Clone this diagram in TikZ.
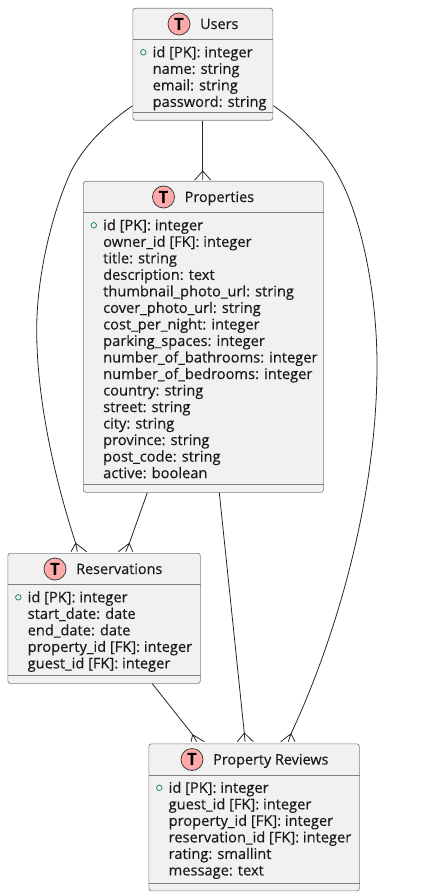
\documentclass[tikz,border=0pt]{standalone}
\usepackage{fontspec}
\usetikzlibrary{calc}
\setmainfont{Open Sans}
\newfontfamily\boxfont[FakeBold=0.2]{Open Sans}
\definecolor{boxline}{HTML}{7F7F7F}
\definecolor{boxfill}{HTML}{F1F1F1}
\definecolor{iconfill}{HTML}{FFAAAA}
\definecolor{pkgreen}{HTML}{1F8A5B}
\newcommand{\ebox}[8]{% name, x, y, w, h, icon x offset, title, fields
 \node[ebox,minimum width=#4pt,minimum height=#5pt] (#1) at (#2,#3) {};
 \draw[rule] ($(#1.north west)+(0,31.5)$) -- ($(#1.north east)+(0,31.5)$);
 \draw[rule] ($(#1.south west)+(0,-8)$) -- ($(#1.south east)+(0,-8)$);
 \node[icon] (#1-icon) at ($(#1.north west)+(#6,16)$) {T};
 \node[title] (#1-title) at ($(#1-icon.center)+(21,5)$) {#7};
 \node[pk] (#1-pk) at ($(#1.north west)+(10.8,44.3)$) {};
 \node[fields] (#1-fields) at ($(#1.north west)+(20,38)$) {#8};
}
\newcommand{\crow}[5]{% apex coordinate, left, mid, right, drop
 \draw[link] (#1) -- ++(#2,#5) (#1) -- ++(#3,#5) (#1) -- ++(#4,#5);}
\begin{document}
\begin{tikzpicture}[x=1pt,y=-1pt,
 ebox/.style={draw=boxline,fill=boxfill,line width=0.7pt,rounded corners=2.5pt,inner sep=0pt,anchor=north west},
 rule/.style={draw=boxline,line width=0.7pt},
 icon/.style={circle,draw=black!75,fill=iconfill,line width=0.8pt,minimum size=22pt,inner sep=0pt,font=\fontsize{17}{17}\selectfont\bfseries},
 title/.style={anchor=base west,inner sep=0pt,font=\boxfont\fontsize{14.4}{16}\selectfont,text=black!90},
 fields/.style={anchor=north west,align=left,inner sep=0pt,font=\boxfont\fontsize{14.65}{16.52}\selectfont,text=black!90},
 pk/.style={circle,draw=pkgreen,line width=0.8pt,minimum size=5.5pt,inner sep=0pt},
 link/.style={draw=black!85,line width=0.8pt}]
\useasboundingbox (0,0) rectangle (430,896);
\ebox{users}{132.5}{8}{140}{112}{46.5}{Users}{id [PK]: integer\\name: string\\email: string\\password: string}
\ebox{props}{83}{181}{240}{311}{80.5}{Properties}{id [PK]: integer\\owner\_id [FK]: integer\\title: string\\description: text\\thumbnail\_photo\_url: string\\cover\_photo\_url: string\\cost\_per\_night: integer\\parking\_spaces: integer\\number\_of\_bathrooms: integer\\number\_of\_bedrooms: integer\\country: string\\street: string\\city: string\\province: string\\post\_code: string\\active: boolean}
\ebox{res}{7.5}{553}{192.5}{130}{47.5}{Reservations}{id [PK]: integer\\start\_date: date\\end\_date: date\\property\_id [FK]: integer\\guest\_id [FK]: integer}
\ebox{rev}{148.5}{743.5}{210.5}{147}{43.5}{Property Reviews}{id [PK]: integer\\guest\_id [FK]: integer\\property\_id [FK]: integer\\reservation\_id [FK]: integer\\rating: smallint\\message: text}
% connector ends
\coordinate (a1) at ($(users.south west)+(70.2,0)$);
\coordinate (a2) at (202.7,171);
\coordinate (b1) at ($(users.south west)+(0,-15)$);
\coordinate (b2) at (75.7,543.3);
\coordinate (c1) at ($(users.south east)+(0,-15)$);
\coordinate (c2) at (291,733.7);
\coordinate (d1) at ($(props.south west)+(64.3,0)$);
\coordinate (d2) at (129.3,543.3);
\coordinate (e1) at ($(props.south west)+(136.3,0)$);
\coordinate (e2) at (244.3,733);
\coordinate (f1) at ($(res.south west)+(144.8,0)$);
\coordinate (f2) at (192.7,734.7);
\draw[link] (a1) -- (a2);
\draw[link] (b1) .. controls (105,125) and (85,145) .. (71.7,170) .. controls (55,205) and (36.7,270) .. (36.7,330) .. controls (36.7,400) and (55,480) .. (b2);
\draw[link] (c1) .. controls (295,120) and (320,145) .. (335,170) .. controls (360,210) and (377,290) .. (377,365) .. controls (377,500) and (335,640) .. (c2);
\draw[link] (d1) -- (d2);
\draw[link] (e1) -- (e2);
\draw[link] (f1) -- (f2);
\crow{a2}{-8}{0}{8}{9}
\crow{b2}{-4.7}{1.6}{11}{8.4}
\crow{c2}{-10.3}{-2.7}{4}{8}
\crow{d2}{-11}{-3.6}{3.4}{8.4}
\crow{e2}{-7}{0.7}{9}{8.7}
\crow{f2}{-1.7}{4}{11.6}{7}
\end{tikzpicture}
\end{document}
